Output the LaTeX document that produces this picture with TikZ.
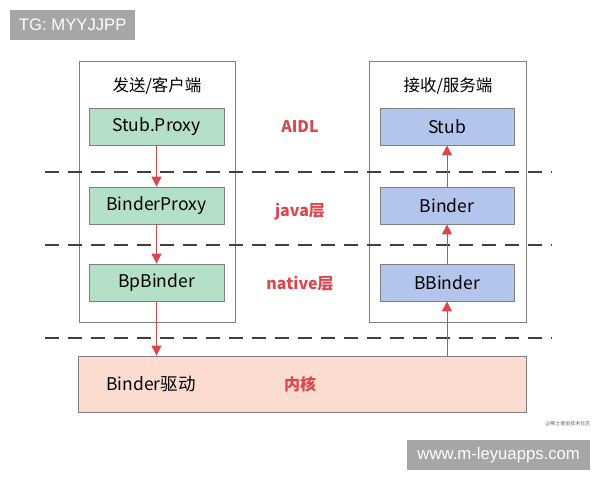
\documentclass[tikz,border=0pt]{standalone}
\usepackage{fontspec}
\setmainfont{Noto Sans CJK SC}
\newfontfamily\arialf{Liberation Sans}
\usetikzlibrary{arrows.meta}
\definecolor{grnfill}{HTML}{B3E0C6}
\definecolor{bluefill}{HTML}{B3C5EC}
\definecolor{pinkfill}{HTML}{FCDCD0}
\definecolor{redc}{HTML}{D9484F}
\definecolor{boxline}{HTML}{7F7F7F}
\definecolor{wmgray}{HTML}{A6A6A6}
\tikzset{
  x=1pt, y=-1pt,
  group/.style={draw=boxline, line width=0.8pt},
  gbox/.style={draw=boxline, fill=grnfill, line width=0.8pt, minimum width=135pt, minimum height=37pt, font=\fontsize{17.5}{19}\selectfont, inner sep=0pt},
  bbox/.style={gbox, fill=bluefill, minimum width=134pt},
  layer/.style={text=redc, font=\fontsize{16}{18}\selectfont\bfseries},
  sep/.style={draw=black!75, line width=1.2pt, dash pattern=on 14pt off 9pt},
  flow/.style={draw=redc, line width=1pt, -{Triangle[length=10pt,width=10pt]}},
  wm/.style={fill=wmgray, text=white, inner sep=0pt, font=\arialf\fontsize{16.7}{18}\selectfont}
}
\begin{document}
\begin{tikzpicture}
\useasboundingbox (0,0) rectangle (600,480);
% watermark tags
\node[wm, minimum width=125pt, minimum height=30pt, anchor=north west] (tg) at (10,10) {TG: MYYJJPP};
\node[wm, minimum width=183pt, minimum height=30pt, anchor=north west] (url) at (407,440) {www.m-leyuapps.com};
\node[font=\fontsize{5}{6}\selectfont, text=black!60, inner sep=0pt] (src) at (568,424) {@稀土掘金技术社区};
% group boxes
\draw[group] (79,61) rectangle (235,322);
\draw[group] (369,61) rectangle (526,322);
\node[font=\fontsize{16.5}{18}\selectfont] (ltitle) at (157,86) {发送/客户端};
\node[font=\fontsize{16.5}{18}\selectfont] (rtitle) at (448,86) {接收/服务端};
% separators
\coordinate (s1a) at (45,172); \coordinate (s1b) at (552,172);
\coordinate (s2a) at (45,245); \coordinate (s2b) at (552,245);
\coordinate (s3a) at (45,338); \coordinate (s3b) at (552,338);
\draw[sep] (s1a) -- (s1b);
\draw[sep] (s2a) -- (s2b);
\draw[sep] (s3a) -- (s3b);
% client nodes
\node[gbox] (sp) at (156.5,126.5) {Stub.Proxy};
\node[gbox] (bp) at (156.5,205.5) {BinderProxy};
\node[gbox] (bpb) at (156.5,282.5) {BpBinder};
% server nodes
\node[bbox] (st) at (447,126.5) {Stub};
\node[bbox] (bi) at (447,205.5) {Binder};
\node[bbox] (bb) at (447,282.5) {BBinder};
% kernel
\node[draw=boxline, fill=pinkfill, line width=0.8pt, minimum width=448pt, minimum height=56pt, inner sep=0pt] (kern) at (302,384) {};
\node[font=\fontsize{17.5}{19}\selectfont] (drv) at (151,384) {Binder驱动};
\node[layer] (nh) at (300,384) {内核};
% layer labels
\node[layer] (aidl) at (300,127) {AIDL};
\node[layer] (java) at (300,212) {java层};
\node[layer] (nat) at (300,284) {native层};
% arrows
\draw[flow] (sp.south) -- (bp.north);
\draw[flow] (bp.south) -- (bpb.north);
\draw[flow] (bpb.south) -- (bpb.south |- kern.north);
\draw[flow] (bb.south |- kern.north) -- (bb.south);
\draw[flow] (bb.north) -- (bi.south);
\draw[flow] (bi.north) -- (st.south);
\end{tikzpicture}
\end{document}
